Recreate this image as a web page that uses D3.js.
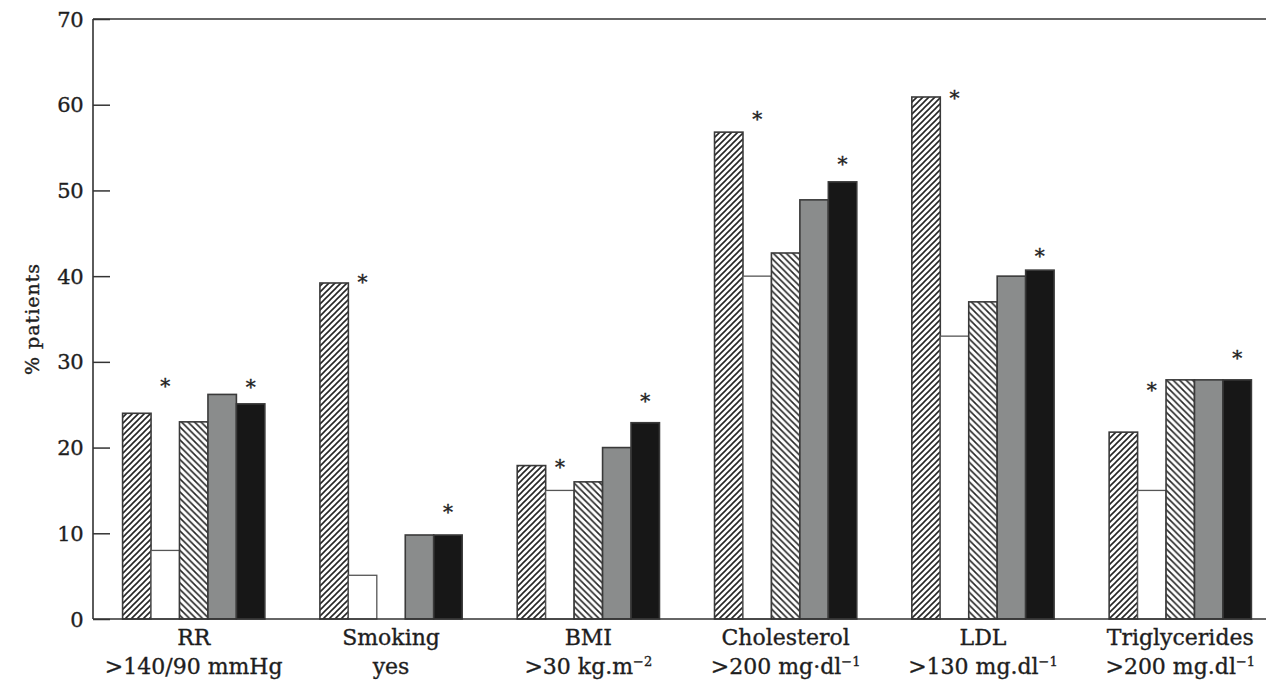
<!DOCTYPE html>
<html>
  <head>
    <meta charset="utf-8" />
    <script src="https://cdn.jsdelivr.net/npm/d3@7"></script>
    <style>
      body {
        margin: 0;
        background: #ffffff;
      }
      svg text {
        font-family: "DejaVu Serif", serif;
        fill: #1e1e1e;
        stroke: #1e1e1e;
        stroke-width: 0.35px;
      }
    </style>
  </head>
  <body>
    <svg id="chart" width="1266" height="684"></svg>

    <script>
      // categories and their second label line ([text, superscript])
      const categories = ["RR", "Smoking", "BMI", "Cholesterol", "LDL", "Triglycerides"];
      const subLabels = [
        [">140/90 mmHg", ""],
        ["yes", ""],
        [">30 kg.m", "\u22122"],
        [">200 mg\u00b7dl", "\u22121"],
        [">130 mg.dl", "\u22121"],
        [">200 mg.dl", "\u22121"],
      ];

      // five series, in drawing order within a group
      const seriesHatchA = [24, 39.2, 17.9, 56.8, 60.9, 21.8];
      const seriesWhite = [8, 5.1, 15, 40, 33, 15];
      const seriesHatchB = [23, 0, 16, 42.7, 37, 27.9];
      const seriesGrey = [26.2, 9.8, 20, 48.9, 40, 27.9];
      const seriesBlack = [25.1, 9.8, 22.9, 51, 40.7, 27.9];

      // asterisk heights (over the white and the black column)
      const starWhite = [27.7, 39.8, 18.3, 58.9, 61.3, 27.2];
      const starBlack = [27.6, 13.0, 25.9, 53.6, 42.9, 31.0];

      const yTicks = [0, 10, 20, 30, 40, 50, 60, 70];

      const series = [seriesHatchA, seriesWhite, seriesHatchB, seriesGrey, seriesBlack];
      const fills = ["url(#hatchA)", "#ffffff", "url(#hatchB)", "#8a8c8c", "#171717"];

      const svg = d3.select("#chart");
      const W = 1266;
      const mLeft = 93,
        mTop = 19,
        mBottom = 619;

      const x = d3
        .scaleBand()
        .domain(categories)
        .range([mLeft, 1281])
        .paddingInner(0.279)
        .paddingOuter(0.15);
      const xi = d3.scaleBand().domain(d3.range(5)).range([0, x.bandwidth()]);
      const y = d3.scaleLinear().domain([0, 70]).range([mBottom, mTop]);

      // hatch patterns
      const defs = svg.append("defs");
      const pa = defs
        .append("pattern")
        .attr("id", "hatchA")
        .attr("patternUnits", "userSpaceOnUse")
        .attr("width", 6)
        .attr("height", 6);
      pa.append("rect").attr("width", 6).attr("height", 6).attr("fill", "#fff");
      pa.append("path")
        .attr("d", "M-1.5,1.5L1.5,-1.5M0,6L6,0M4.5,7.5L7.5,4.5")
        .attr("stroke", "#262626")
        .attr("stroke-width", 1.6);

      const pb = defs
        .append("pattern")
        .attr("id", "hatchB")
        .attr("patternUnits", "userSpaceOnUse")
        .attr("width", 6.5)
        .attr("height", 6.5);
      pb.append("rect").attr("width", 6.5).attr("height", 6.5).attr("fill", "#fff");
      pb.append("path")
        .attr("d", "M-1.5,5L1.5,8M0,0L6.5,6.5M5,-1.5L8,1.5")
        .attr("stroke", "#262626")
        .attr("stroke-width", 1.6);

      // bars
      series.forEach((vals, si) => {
        svg
          .append("g")
          .selectAll("rect")
          .data(categories.filter((c, i) => vals[i] > 0))
          .join("rect")
          .attr("x", (c) => x(c) + xi(si))
          .attr("y", (c) => y(vals[categories.indexOf(c)]))
          .attr("width", xi.bandwidth())
          .attr("height", (c) => mBottom - y(vals[categories.indexOf(c)]))
          .attr("fill", fills[si])
          .attr("stroke", si === 1 ? "#555" : "#3a3a3a")
          .attr("stroke-width", si === 1 ? 1.3 : 1.6);
      });

      // asterisks
      const stars = [
        [1, starWhite],
        [4, starBlack],
      ];
      stars.forEach(([col, vals]) => {
        svg
          .append("g")
          .selectAll("text")
          .data(categories)
          .join("text")
          .attr("x", (c) => x(c) + xi(col) + xi.bandwidth() / 2)
          .attr("y", (c, i) => y(vals[i]))
          .attr("dy", "0.57em")
          .attr("text-anchor", "middle")
          .style("font-size", "20px")
          .text("*");
      });

      // axes
      const axisColor = "#333";
      const yAxis = svg
        .append("g")
        .attr("transform", `translate(${mLeft},0)`)
        .call(d3.axisRight(y).tickValues(yTicks).tickSize(17).tickFormat(""));
      yAxis.select(".domain").remove();
      yAxis.selectAll("line").attr("stroke", axisColor).attr("stroke-width", 1.5);

      svg
        .append("g")
        .selectAll("text")
        .data(yTicks)
        .join("text")
        .attr("x", mLeft - 10)
        .attr("y", (d) => y(d))
        .attr("dy", "0.36em")
        .attr("text-anchor", "end")
        .style("font-size", "21px")
        .style("letter-spacing", "-0.5px")
        .text((d) => d);

      svg.append("line")
        .attr("x1", mLeft).attr("x2", mLeft)
        .attr("y1", mTop).attr("y2", mBottom)
        .attr("stroke", axisColor).attr("stroke-width", 1.6);
      svg.append("line")
        .attr("x1", mLeft).attr("x2", W)
        .attr("y1", mTop).attr("y2", mTop)
        .attr("stroke", axisColor).attr("stroke-width", 1.6);
      svg.append("line")
        .attr("x1", mLeft).attr("x2", W)
        .attr("y1", mBottom).attr("y2", mBottom)
        .attr("stroke", axisColor).attr("stroke-width", 1.6);

      // category labels
      const lab = svg
        .append("g")
        .selectAll("g")
        .data(categories)
        .join("g")
        .attr("transform", (c) => `translate(${x(c) + x.bandwidth() / 2},0)`);
      lab.append("text")
        .attr("y", 645)
        .attr("text-anchor", "middle")
        .style("font-size", "22px")
        .text((c) => c);
      const l2 = lab.append("text")
        .attr("y", 674)
        .attr("text-anchor", "middle")
        .style("font-size", "22px");
      l2.append("tspan").text((c, i) => subLabels[i][0]);
      l2.append("tspan")
        .attr("dy", -8)
        .style("font-size", "13px")
        .text((c, i) => subLabels[i][1]);

      // y title
      svg.append("text")
        .attr("transform", `translate(39,${(mTop + mBottom) / 2}) rotate(-90)`)
        .attr("text-anchor", "middle")
        .style("font-size", "19px")
        .style("letter-spacing", "1px")
        .text("% patients");
    </script>
  </body>
</html>
